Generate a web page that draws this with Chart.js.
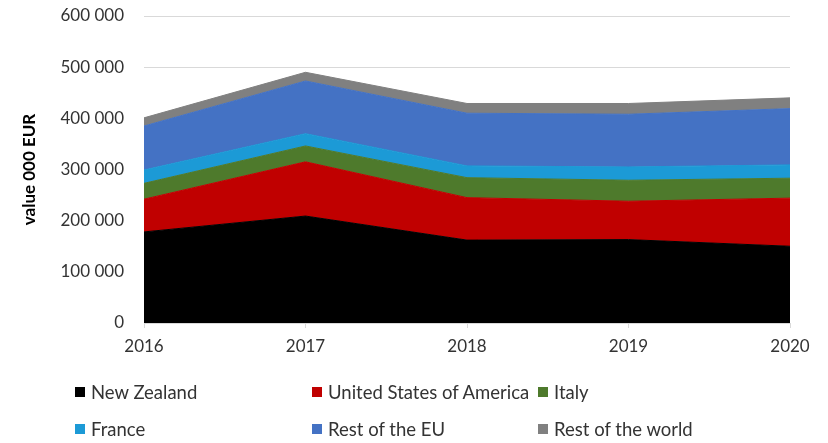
<!DOCTYPE html>
<html>
<head>
<meta charset="utf-8">
<script src="https://cdn.jsdelivr.net/npm/chart.js@4.4.0/dist/chart.umd.min.js"></script>
<style>
  body { margin: 0; background: #fff; }
  #wrap { position: relative; width: 828px; height: 443px; font-family: Lato, "Open Sans", sans-serif; }
  #chart { position: absolute; left: 0; top: 0; }
  #legend { position: absolute; left: 75px; top: 380px; display: grid; grid-template-columns: 237px 226px auto; row-gap: 13px; }
  .item { display: flex; align-items: center; height: 24px; font-size: 18.5px; color: #333; white-space: nowrap; }
  .box { width: 10px; height: 10px; margin-right: 6px; flex: none; }
</style>
</head>
<body>
<div id="wrap">
  <canvas id="chart" width="828" height="443"></canvas>
  <div id="legend"></div>
</div>
<script>
(function () {
  'use strict';

  var YEARS = ['2016', '2017', '2018', '2019', '2020'];
  var SERIES_NAMES = ['New Zealand', 'United States of America', 'Italy', 'France', 'Rest of the EU', 'Rest of the world'];
  var NEW_ZEALAND = [178000, 209000, 162000, 163000, 150000];
  var USA = [64000, 106000, 83000, 75000, 94000];
  var ITALY = [31000, 31000, 39000, 41000, 39000];
  var FRANCE = [26000, 24000, 23000, 26000, 26000];
  var REST_EU = [86000, 103000, 103000, 103000, 110000];
  var REST_WORLD = [16000, 17000, 19000, 21000, 21000];

  var COLORS = ['#000000', '#c00000', '#4e7a2c', '#1c9ad6', '#4472c4', '#808080'];
  var COLOR_GRID = '#d9d9d9';
  var COLOR_TEXT = '#333333';
  var FONT = 'Lato, "Open Sans", sans-serif';

  var values = [NEW_ZEALAND, USA, ITALY, FRANCE, REST_EU, REST_WORLD];

  var datasets = values.map(function (vals, i) {
    return {
      label: SERIES_NAMES[i],
      data: vals,
      backgroundColor: COLORS[i],
      borderColor: COLORS[i],
      borderWidth: 1,
      pointRadius: 0,
      tension: 0,
      fill: i === 0 ? 'origin' : '-1'
    };
  });

  function fmt(v) {
    return String(v).replace(/\B(?=(\d{3})+(?!\d))/g, ' ');
  }

  new Chart(document.getElementById('chart').getContext('2d'), {
    type: 'line',
    data: { labels: YEARS, datasets: datasets },
    options: {
      responsive: false,
      animation: false,
      layout: { padding: { left: 0, right: 38, top: 0, bottom: 80 } },
      plugins: {
        legend: { display: false },
        tooltip: { enabled: false }
      },
      scales: {
        x: {
          offset: false,
          grid: { drawOnChartArea: false, drawTicks: true, tickLength: 5, color: COLOR_GRID },
          border: { color: COLOR_GRID },
          ticks: { color: COLOR_TEXT, font: { family: FONT, size: 17 }, padding: 8, maxRotation: 0 },
          afterFit: function (scale) { scale.height = 40; }
        },
        y: {
          stacked: true,
          min: 0,
          max: 600000,
          grid: { color: COLOR_GRID, drawTicks: false },
          border: { display: false },
          ticks: { stepSize: 100000, color: COLOR_TEXT, font: { family: FONT, size: 17 }, padding: 20,
            callback: function (v) { return fmt(v); } },
          title: { display: true, text: 'value 000 EUR', color: '#000', font: { family: FONT, size: 17, weight: 'bold' }, padding: { top: 19, bottom: 0 } },
          afterFit: function (scale) {
            scale.width = 144;
            scale.paddingTop = 16;
            scale.paddingBottom = 0;
          }
        }
      }
    }
  });

  var legendEl = document.getElementById('legend');
  SERIES_NAMES.forEach(function (name, i) {
    var item = document.createElement('div');
    item.className = 'item';
    var box = document.createElement('span');
    box.className = 'box';
    box.style.background = COLORS[i];
    item.appendChild(box);
    item.appendChild(document.createTextNode(name));
    legendEl.appendChild(item);
  });
})();
</script>
</body>
</html>
